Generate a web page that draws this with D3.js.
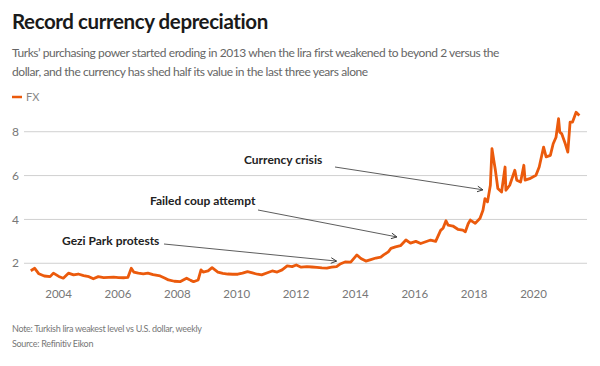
<!DOCTYPE html>
<html>
<head>
<meta charset="utf-8">
<script src="https://cdn.jsdelivr.net/npm/d3@7"></script>
<style>
  body { margin: 0; background: #fff; }
  text { font-family: Lato, "Noto Sans", sans-serif; }
</style>
</head>
<body>
<div id="chart"></div>
<script>
// weekly high of USD/TRY
const dates = [
  "2003-01-30","2003-03-20","2003-05-10","2003-07-15","2003-09-25","2003-11-05",
  "2004-01-10","2004-03-05","2004-05-08","2004-07-10","2004-09-05","2004-11-10",
  "2005-01-15","2005-03-10","2005-05-10","2005-07-15","2005-09-15","2005-11-15",
  "2006-01-15","2006-03-15","2006-05-10","2006-06-20","2006-07-20","2006-09-15","2006-11-15",
  "2007-01-10","2007-03-15","2007-06-10","2007-08-10","2007-09-20","2007-12-01",
  "2008-02-10","2008-04-01","2008-05-01","2008-06-20","2008-07-25","2008-09-20","2008-10-25","2008-11-20",
  "2009-01-20","2009-03-10","2009-05-20","2009-07-20","2009-09-20","2009-11-20",
  "2010-01-20","2010-03-20","2010-05-20","2010-07-20","2010-09-20","2010-11-10",
  "2011-01-20","2011-03-20","2011-05-20","2011-07-20","2011-09-20","2011-11-20",
  "2012-01-10","2012-03-10","2012-05-20","2012-07-20","2012-09-20","2012-11-20",
  "2013-01-20","2013-03-20","2013-05-20","2013-07-10","2013-09-01","2013-11-10",
  "2014-01-25","2014-03-15","2014-05-15","2014-07-15","2014-09-15","2014-11-15","2014-12-20",
  "2015-02-15","2015-03-20","2015-05-15","2015-07-15","2015-09-20","2015-11-15",
  "2016-01-20","2016-03-20","2016-05-20","2016-07-20","2016-09-20","2016-11-20","2016-12-20",
  "2017-01-25","2017-02-20","2017-04-20","2017-06-20","2017-08-20","2017-09-20","2017-10-25","2017-11-20",
  "2018-01-20","2018-03-20","2018-04-25","2018-05-20","2018-06-20","2018-07-25","2018-08-14",
  "2018-09-05","2018-09-25","2018-10-25","2018-12-10",
  "2019-01-22","2019-02-01","2019-03-20","2019-05-22","2019-06-15","2019-08-01","2019-09-10",
  "2019-09-25","2019-11-20",
  "2020-02-06","2020-03-17","2020-05-10","2020-06-10","2020-08-01","2020-09-05","2020-10-10",
  "2020-11-10","2020-11-25","2020-12-20",
  "2021-02-01","2021-03-04","2021-04-01","2021-05-01","2021-06-14","2021-07-24"
];
const fx = [
  1.66,1.77,1.52,1.42,1.39,1.55,
  1.40,1.32,1.55,1.47,1.51,1.44,
  1.39,1.29,1.39,1.35,1.36,1.37,
  1.35,1.34,1.36,1.77,1.60,1.55,1.52,
  1.55,1.48,1.42,1.32,1.24,1.18,
  1.16,1.26,1.32,1.22,1.16,1.24,1.70,1.60,
  1.65,1.80,1.60,1.54,1.51,1.50,
  1.50,1.55,1.62,1.56,1.50,1.47,
  1.57,1.65,1.60,1.70,1.88,1.85,
  1.92,1.82,1.85,1.83,1.81,1.79,
  1.78,1.82,1.85,1.98,2.06,2.05,
  2.38,2.22,2.10,2.17,2.24,2.28,2.38,
  2.52,2.68,2.75,2.80,3.06,2.92,
  3.00,2.90,2.98,3.06,3.00,3.50,3.60,
  3.94,3.74,3.70,3.55,3.51,3.44,3.80,3.97,
  3.82,4.05,4.42,4.95,4.80,5.56,7.23,
  6.70,6.24,5.41,5.25,
  6.39,5.33,5.56,6.24,5.79,5.71,6.47,
  5.79,5.86,
  6.01,6.39,7.30,6.85,6.92,7.45,7.75,
  8.60,7.98,7.90,
  7.45,7.07,8.44,8.44,8.89,8.74
];
const yTicks = [2, 4, 6, 8];
const xTickYears = [2004, 2006, 2008, 2010, 2012, 2014, 2016, 2018, 2020];

const annotations = [
  { label: "Currency crisis", date: "2018-04-25", value: 5.35, tx: 244, ty: 164, lx: 335, ly: 167 },
  { label: "Failed coup attempt", date: "2015-06-01", value: 3.2, tx: 150, ty: 205, lx: 258, ly: 210 },
  { label: "Gezi Park protests", date: "2013-05-20", value: 2.1, tx: 62, ty: 245, lx: 164, ly: 244 }
];

const width = 600, height = 366;
const plotLeft = 24, plotRight = 587, plotTop = 109.8, plotBottom = 285.2;
const orange = "#eb5a0c";

const parse = d3.utcParse("%Y-%m-%d");
const data = dates.map((d, i) => ({ date: parse(d), value: fx[i] }));

const x = d3.scaleUtc()
  .domain([parse("2002-11-08"), parse("2021-10-26")])
  .range([plotLeft, plotRight]);
const y = d3.scaleLinear().domain([1, 9]).range([plotBottom, plotTop]);

const svg = d3.select("#chart").append("svg")
  .attr("width", width).attr("height", height)
  .attr("viewBox", [0, 0, width, height]);

svg.append("defs").append("marker")
  .attr("id", "arrow")
  .attr("viewBox", "0 0 10 10")
  .attr("refX", 9).attr("refY", 5)
  .attr("markerWidth", 7).attr("markerHeight", 7)
  .attr("markerUnits", "userSpaceOnUse")
  .attr("orient", "auto")
  .append("path")
  .attr("d", "M1,1 L9,5 L1,9")
  .attr("fill", "none").attr("stroke", "#333").attr("stroke-width", 1.3);

// title block
svg.append("text").attr("x", 12).attr("y", 29)
  .attr("font-size", 20.5).attr("font-weight", "bold").attr("fill", "#1a1a1a")
  .attr("letter-spacing", -0.4)
  .text("Record currency depreciation");
const sub = svg.append("text").attr("font-size", 12).attr("fill", "#666")
  .attr("letter-spacing", -0.42);
sub.append("tspan").attr("x", 12).attr("y", 57)
  .text("Turks’ purchasing power started eroding in 2013 when the lira first weakened to beyond 2 versus the");
sub.append("tspan").attr("x", 12).attr("y", 76)
  .text("dollar, and the currency has shed half its value in the last three years alone");

// legend
svg.append("line").attr("x1", 12).attr("x2", 22).attr("y1", 97).attr("y2", 97)
  .attr("stroke", orange).attr("stroke-width", 2.5);
svg.append("text").attr("x", 26).attr("y", 101)
  .attr("font-size", 11).attr("fill", "#888").text("FX");

// y grid + labels
const yAxis = svg.append("g");
yAxis.selectAll("line").data(yTicks).join("line")
  .attr("x1", plotLeft).attr("x2", plotRight)
  .attr("y1", d => y(d)).attr("y2", d => y(d))
  .attr("stroke", "#d0d0d0").attr("stroke-width", 1);
yAxis.selectAll("text").data(yTicks).join("text")
  .attr("x", 12).attr("y", d => y(d)).attr("dy", "0.35em")
  .attr("font-size", 12).attr("fill", "#777")
  .text(d => d);

// x axis labels
const xAxis = d3.axisBottom(x)
  .tickValues(xTickYears.map(yr => new Date(Date.UTC(yr, 0, 1))))
  .tickFormat(d3.utcFormat("%Y"))
  .tickSize(0).tickPadding(0);
svg.append("g")
  .attr("transform", `translate(0,${plotBottom + 5})`)
  .call(xAxis)
  .call(g => g.select(".domain").remove())
  .call(g => g.selectAll("text")
    .attr("font-family", "Lato, 'Noto Sans', sans-serif")
    .attr("font-size", 11.5).attr("fill", "#777"));

// the line
const line = d3.line().x(d => x(d.date)).y(d => y(d.value));
svg.append("path").datum(data)
  .attr("fill", "none").attr("stroke", orange)
  .attr("stroke-width", 2.8).attr("stroke-linejoin", "round")
  .attr("d", line);

// annotations
const ann = svg.append("g");
ann.selectAll("line").data(annotations).join("line")
  .attr("x1", d => d.lx).attr("y1", d => d.ly)
  .attr("x2", d => x(parse(d.date))).attr("y2", d => y(d.value))
  .attr("stroke", "#333").attr("stroke-width", 0.8)
  .attr("marker-end", "url(#arrow)");
ann.selectAll("text").data(annotations).join("text")
  .attr("x", d => d.tx).attr("y", d => d.ty)
  .attr("font-size", 12).attr("font-weight", "bold").attr("fill", "#222")
  .text(d => d.label);

// footer
svg.append("text").attr("x", 12).attr("y", 332)
  .attr("font-size", 9).attr("fill", "#777").attr("letter-spacing", -0.3)
  .text("Note: Turkish lira weakest level vs U.S. dollar, weekly");
svg.append("text").attr("x", 12).attr("y", 347)
  .attr("font-size", 9).attr("fill", "#777").attr("letter-spacing", -0.3)
  .text("Source: Refinitiv Eikon");
</script>
</body>
</html>
